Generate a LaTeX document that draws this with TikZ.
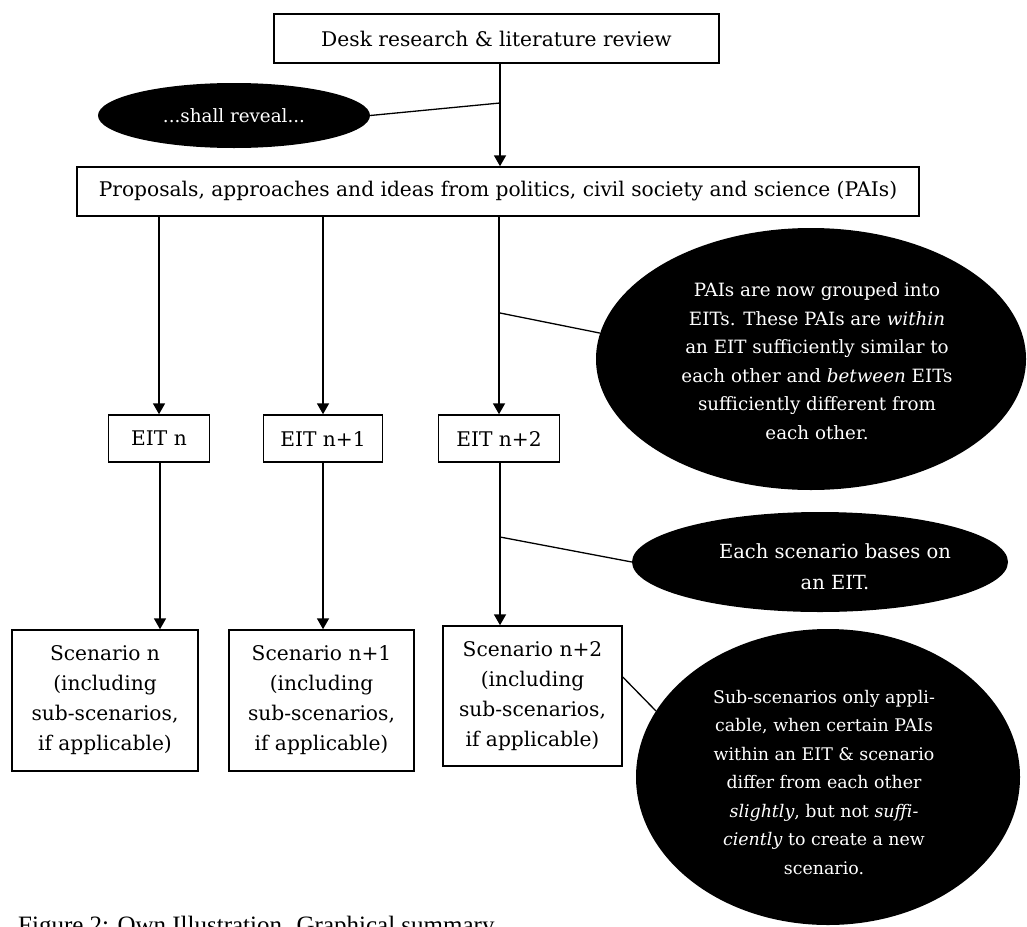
\documentclass[tikz,border=0pt]{standalone}
\usepackage{fontspec}
\setmainfont{DejaVu Serif}
\newfontfamily\capfont{Liberation Serif}
\usetikzlibrary{shapes.geometric,arrows.meta}

\begin{document}
\begin{tikzpicture}[x=1pt,y=-1pt,
  box/.style={draw=black, line width=1.5pt, rectangle, inner sep=0pt,
    align=center, font=\fontsize{20.2}{30}\selectfont},
  blob/.style={ellipse, fill=black, draw=none, inner sep=0pt},
  blobtext/.style={text=white, align=center, inner sep=0pt,
    font=\fontsize{18.3}{28.5}\selectfont},
  flow/.style={line width=1.8pt, -{Triangle[width=12pt,length=11pt]}},
  link/.style={line width=1.3pt},
]
\useasboundingbox (0,0) rectangle (1027,926);
\clip (0,0) rectangle (1027,926);
\fill[white] (0,0) rectangle (1027,926);

% main flow boxes
\node[box, minimum width=445, minimum height=49] (desk) at (496.5,38.5)
  {Desk research \& literature review};
\node[box, minimum width=842, minimum height=49] (pais) at (498,191.5)
  {Proposals, approaches and ideas from politics, civil society and science (PAIs)};

\node[box, minimum width=101, minimum height=47] (eitA) at (159,438.5) {EIT n};
\node[box, minimum width=119, minimum height=47] (eitB) at (323,438.5) {EIT n+1};
\node[box, minimum width=121, minimum height=47] (eitC) at (499,438.5) {EIT n+2};

\node[box, minimum width=186, minimum height=141] (scenA) at (105,700.5)
  {Scenario n\\(including\\sub-scenarios,\\if applicable)};
\node[box, minimum width=185, minimum height=141] (scenB) at (321.5,700.5)
  {Scenario n+1\\(including\\sub-scenarios,\\if applicable)};
\node[box, minimum width=179, minimum height=140] (scenC) at (532.5,696)
  {Scenario n+2\\(including\\sub-scenarios,\\if applicable)};

% explanatory ellipses
\node[blob, minimum width=272, minimum height=65] (reveal) at (234,115.5) {};
\node[blobtext] at (reveal) {...shall reveal...};

\node[blob, minimum width=430, minimum height=262] (grouped) at (811,359) {};
\node[blobtext] at (817,361) {PAIs are now grouped into\\
  EITs. These PAIs are \emph{within}\\
  an EIT sufficiently similar to\\
  each other and \emph{between} EITs\\
  sufficiently different from\\
  each other.};

\node[blob, minimum width=376, minimum height=100] (bases) at (820,562) {};
\node[blobtext, font=\fontsize{19.5}{31}\selectfont] at (835,567)
  {Each scenario bases on\\an EIT.};

\node[blob, minimum width=384, minimum height=296] (subsc) at (828,777) {};
\node[blobtext, font=\fontsize{17.4}{28.5}\selectfont] at (824,782)
  {Sub-scenarios only appli-\\
  cable, when certain PAIs\\
  within an EIT \& scenario\\
  differ from each other\\
  \emph{slightly}, but not \emph{suffi-}\\
  \emph{ciently} to create a new\\
  scenario.};

% arrows
\draw[flow] ([xshift=3.5pt]desk.south) -- ([xshift=3.5pt]desk.south |- pais.north);
\draw[flow] (eitA |- pais.south) -- (eitA.north);
\draw[flow] (eitB |- pais.south) -- (eitB.north);
\draw[flow] (eitC |- pais.south) -- (eitC.north);
\draw[flow] ([xshift=1pt]eitA.south) -- ([xshift=1pt]eitA.south |- scenA.north);
\draw[flow] (eitB.south) -- (eitB.south |- scenB.north);
\draw[flow] ([xshift=1pt]eitC.south) -- ([xshift=1pt]eitC.south |- scenC.north);

% callout lines
\coordinate (j1) at (500,103);
\coordinate (j2) at (500,313);
\coordinate (j3) at (500,537);
\draw[link] (reveal.east) -- (j1);
\draw[link] (j2) -- (grouped.173);
\draw[link] (j3) -- (bases.west);
\draw[link] ([yshift=19pt]scenC.east) -- (subsc.159);

% caption
\node[anchor=base west, inner sep=0pt, font=\capfont\fontsize{25}{30}\selectfont]
  (cap) at (18,933) {Figure 2: Own Illustration. Graphical summary};
\end{tikzpicture}
\end{document}
